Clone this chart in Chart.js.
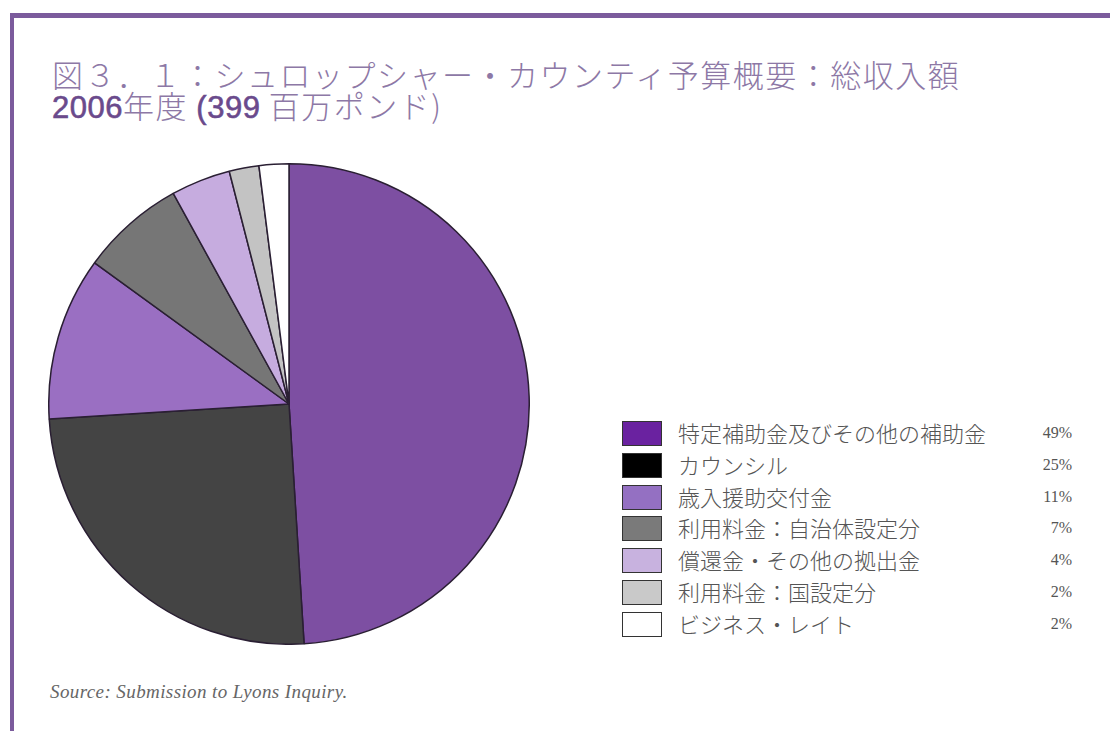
<!DOCTYPE html>
<html lang="ja">
<head>
<meta charset="utf-8">
<title>シュロップシャー・カウンティ予算概要</title>
<script src="https://cdn.jsdelivr.net/npm/chart.js@4/dist/chart.umd.min.js"></script>
<style>
  html, body { margin: 0; padding: 0; background: #fff; }
  body { width: 1110px; height: 731px; position: relative; overflow: hidden; }
  .frame {
    position: absolute; left: 10px; top: 13px; width: 1200px; height: 800px;
    border-left: 4px solid #7b5b9c; border-top: 5px solid #7b5b9c;
  }
  .titulo {
    position: absolute; left: 52px; top: 58px; color: #8d78a6;
    font-family: "Noto Sans CJK JP", sans-serif; font-weight: 300;
    font-size: 31px; line-height: 31px; letter-spacing: 1.5px; white-space: nowrap;
  }
  .titulo b {
    font-family: "Liberation Sans", Arial, sans-serif; font-weight: 400; letter-spacing: 0.5px;
    color: #6a4a8c; -webkit-text-stroke: 0.6px #6a4a8c;
  }
  #grafico-wrap { position: absolute; left: 48px; top: 163px; width: 482px; height: 482px; }
  #legenda { position: absolute; left: 622px; top: 420px; width: 450px; }
  .item { position: relative; height: 31.8px; }
  .caixa { position: absolute; left: 0; top: 1px; width: 38px; height: 23px; border: 1.5px solid #333; }
  .rotulo {
    position: absolute; left: 56px; top: -3px; color: #555; white-space: nowrap;
    font-family: "Noto Sans CJK JP", sans-serif; font-weight: 300; font-size: 22px; line-height: 30px;
  }
  .pct {
    position: absolute; right: 0; top: 2px; color: #555;
    font-family: "Liberation Serif", serif; font-size: 16px; line-height: 22px;
  }
  .fonte {
    position: absolute; left: 50px; top: 681px; color: #666;
    font-family: "Liberation Serif", serif; font-style: italic; font-size: 19px; letter-spacing: 0.4px;
  }
</style>
</head>
<body>
<div class="frame"></div>
<div class="titulo">図３．１：シュロップシャー・カウンティ予算概要：総収入額<br><b>2006</b>年度 <b>(399</b> 百万ポンド)</div>
<div id="grafico-wrap"><canvas id="graficoReceita"></canvas></div>
<div id="legenda"></div>
<div class="fonte">Source: Submission to Lyons Inquiry.</div>

<script>
// Receita total 2006 (399 milhões de libras), participação por fonte
const categorias = [
  "特定補助金及びその他の補助金",
  "カウンシル",
  "歳入援助交付金",
  "利用料金：自治体設定分",
  "償還金・その他の拠出金",
  "利用料金：国設定分",
  "ビジネス・レイト"
];
const percentuais = [49, 25, 11, 7, 4, 2, 2];
const rotulosPct = ["49%", "25%", "11%", "7%", "4%", "2%", "2%"];

// cores das fatias e das caixas da legenda
const coresFatias = ["#7d4fa2", "#444444", "#9a6fc2", "#767676", "#c6acdf", "#c3c3c3", "#ffffff"];
const coresLegenda = ["#6a22a0", "#000000", "#9470c2", "#7a7a7a", "#c8b2df", "#c9c9c9", "#ffffff"];

new Chart(document.getElementById("graficoReceita"), {
  type: "pie",
  data: {
    labels: categorias,
    datasets: [{
      data: percentuais,
      backgroundColor: coresFatias,
      borderColor: "#2a1f33",
      borderWidth: 1.5
    }]
  },
  options: {
    responsive: true,
    maintainAspectRatio: false,
    animation: false,
    layout: { padding: 0 },
    plugins: {
      legend: { display: false },
      tooltip: { enabled: false }
    }
  }
});

// Legenda montada à parte, com a porcentagem alinhada à direita
const legenda = document.getElementById("legenda");
categorias.forEach((nome, i) => {
  const item = document.createElement("div");
  item.className = "item";
  item.innerHTML =
    `<div class="caixa" style="background:${coresLegenda[i]}"></div>` +
    `<div class="rotulo">${nome}</div>` +
    `<div class="pct">${rotulosPct[i]}</div>`;
  legenda.appendChild(item);
});
</script>
</body>
</html>
